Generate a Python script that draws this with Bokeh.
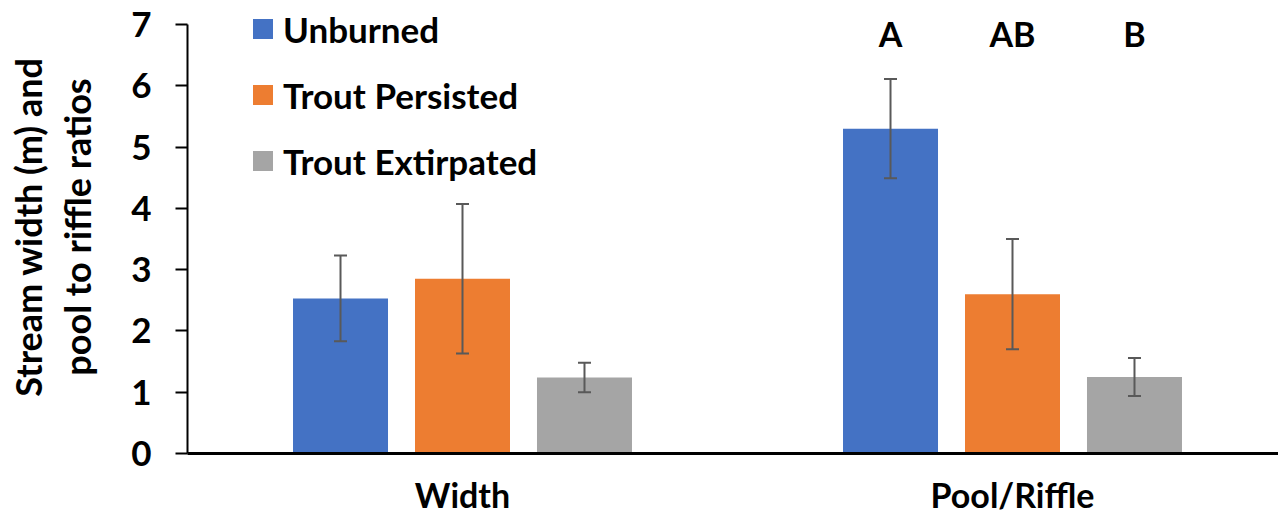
from bokeh.plotting import figure
from bokeh.models import (ColumnDataSource, Whisker, Legend, LegendItem,
                          FixedTicker, Range1d, TeeHead)
from bokeh.core.properties import value
from bokeh.embed import file_html
from bokeh.resources import INLINE

# ---------------- data ----------------
groups = ["Width", "Pool/Riffle"]
series = ["Unburned", "Trout Persisted", "Trout Extirpated"]
colors = ["#4472C4", "#ED7D31", "#A5A5A5"]

unburned_mean = [2.53, 5.30]
unburned_se = [0.70, 0.81]
persisted_mean = [2.85, 2.60]
persisted_se = [1.22, 0.90]
extirpated_mean = [1.24, 1.25]
extirpated_se = [0.24, 0.31]

pool_letters = ["A", "AB", "B"]
y_ticks = [0, 1, 2, 3, 4, 5, 6, 7]
y_title = "Stream width (m) and\npool to riffle ratios"

FONT = "Lato"

# ---------------- figure ----------------
W, H = 1278, 519
LEFT, TOP, BOTTOM = 187, 0, 66
group_px = 550.0
unit_px = 429.0 / 7.0
x_start = -0.5
x_end = x_start + (W - LEFT) / group_px
y_end = (H - TOP - BOTTOM) / unit_px

p = figure(width=W, height=H, output_backend="svg", toolbar_location=None,
           x_range=Range1d(x_start, x_end), y_range=Range1d(0, y_end),
           min_border_left=LEFT, min_border_right=0, min_border_top=TOP,
           min_border_bottom=BOTTOM)
p.outline_line_color = None
p.xgrid.visible = False
p.ygrid.visible = False
p.background_fill_color = "white"
p.border_fill_color = "white"

offsets = [-0.2218, 0.0, 0.2218]
bar_w = 95 / group_px
means = [unburned_mean, persisted_mean, extirpated_mean]
ses = [unburned_se, persisted_se, extirpated_se]

renderers = []
for i, (name, col) in enumerate(zip(series, colors)):
    xs = [g + offsets[i] for g in range(len(groups))]
    m = means[i]
    s = ses[i]
    src = ColumnDataSource(dict(x=xs, top=m,
                                upper=[a + b for a, b in zip(m, s)],
                                lower=[a - b for a, b in zip(m, s)]))
    r = p.vbar(x="x", top="top", width=bar_w, bottom=0, source=src,
               fill_color=col, line_color=None)
    renderers.append(r)
    w = Whisker(source=src, base="x", upper="upper", lower="lower",
                line_color="#595959", line_width=2, level="overlay",
                upper_head=TeeHead(size=13, line_color="#595959", line_width=2),
                lower_head=TeeHead(size=13, line_color="#595959", line_width=2))
    p.add_layout(w)

# significance letters above pool/riffle bars
letter_src = ColumnDataSource(dict(x=[1 + o for o in offsets],
                                   y=[6.855] * 3, t=pool_letters))
p.text(x="x", y="y", text="t", source=letter_src, text_align="center",
       text_baseline="middle", text_font=value(FONT), text_font_style="bold",
       text_font_size="34px", text_color="black")

# ---------------- axes ----------------
ya = p.yaxis[0]
ya.ticker = FixedTicker(ticks=y_ticks)
ya.bounds = (0, 7)
ya.major_tick_out = 12
ya.major_tick_in = 0
ya.minor_tick_line_color = None
ya.axis_line_width = 2
ya.major_tick_line_width = 2
ya.axis_line_color = "black"
ya.major_tick_line_color = "black"
ya.major_label_text_font = FONT
ya.major_label_text_font_style = "bold"
ya.major_label_text_font_size = "35px"
ya.major_label_text_color = "black"
ya.major_label_standoff = 24
ya.axis_label = y_title
ya.axis_label_text_font = FONT
ya.axis_label_text_font_style = "bold"
ya.axis_label_text_font_size = "36px"
ya.axis_label_text_color = "black"
ya.axis_label_text_line_height = 1.11
ya.axis_label_standoff = 29

xa = p.xaxis[0]
xa.ticker = FixedTicker(ticks=list(range(len(groups))))
xa.major_label_overrides = {i: g for i, g in enumerate(groups)}
xa.major_tick_out = 0
xa.major_tick_in = 0
xa.minor_tick_line_color = None
xa.axis_line_width = 3
xa.axis_line_color = "black"
xa.major_label_text_font = FONT
xa.major_label_text_font_style = "bold"
xa.major_label_text_font_size = "34px"
xa.major_label_text_color = "black"
xa.major_label_standoff = 20

# ---------------- legend ----------------
items = [LegendItem(label=s, renderers=[r]) for s, r in zip(series, renderers)]
legend = Legend(items=items, location=(63, 270), orientation="vertical",
                glyph_width=25, glyph_height=25, label_standoff=8,
                label_height=45, spacing=21, padding=0, margin=0,
                border_line_color=None, background_fill_alpha=0,
                label_text_font=FONT, label_text_font_style="bold",
                label_text_font_size="35px", label_text_color="black")
p.add_layout(legend)

open("out.html", "w").write(file_html(p, INLINE))
